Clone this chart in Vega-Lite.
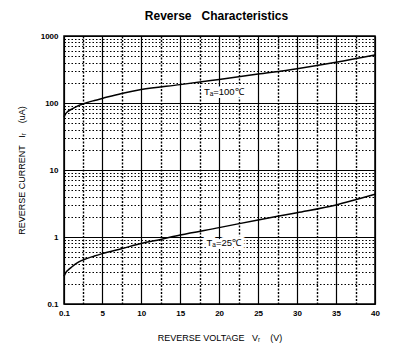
{
  "$schema": "https://vega.github.io/schema/vega-lite/v6.json",
  "width": 311,
  "height": 268,
  "autosize": {"type": "none"},
  "padding": {"left": 64, "top": 36, "right": 20, "bottom": 54},
  "background": "white",
  "config": {
    "font": "Liberation Sans",
    "view": {"stroke": "black", "strokeWidth": 1.5}
  },
  "title": {
    "text": "Reverse\u00a0\u00a0\u00a0Characteristics",
    "font": "Liberation Sans",
    "fontSize": 12,
    "fontWeight": "bold",
    "color": "black",
    "offset": 9,
    "dx": -3
  },
  "datasets": {
    "curves": [
      {"t": "100", "v": 0.1, "i": 62},
      {"t": "100", "v": 0.3, "i": 69},
      {"t": "100", "v": 0.6, "i": 75},
      {"t": "100", "v": 1, "i": 80},
      {"t": "100", "v": 1.5, "i": 86},
      {"t": "100", "v": 2, "i": 92},
      {"t": "100", "v": 3, "i": 101},
      {"t": "100", "v": 4, "i": 109},
      {"t": "100", "v": 5, "i": 117},
      {"t": "100", "v": 7.5, "i": 139},
      {"t": "100", "v": 10, "i": 159},
      {"t": "100", "v": 15, "i": 188},
      {"t": "100", "v": 20, "i": 225},
      {"t": "100", "v": 25, "i": 270},
      {"t": "100", "v": 30, "i": 325},
      {"t": "100", "v": 35, "i": 405},
      {"t": "100", "v": 40, "i": 520},
      {"t": "25", "v": 0.1, "i": 0.26},
      {"t": "25", "v": 0.3, "i": 0.29},
      {"t": "25", "v": 0.6, "i": 0.32},
      {"t": "25", "v": 1, "i": 0.35},
      {"t": "25", "v": 1.5, "i": 0.39},
      {"t": "25", "v": 2, "i": 0.425},
      {"t": "25", "v": 3, "i": 0.475},
      {"t": "25", "v": 4, "i": 0.52},
      {"t": "25", "v": 5, "i": 0.565},
      {"t": "25", "v": 7.5, "i": 0.67},
      {"t": "25", "v": 10, "i": 0.8},
      {"t": "25", "v": 12.5, "i": 0.92},
      {"t": "25", "v": 15, "i": 1.07},
      {"t": "25", "v": 20, "i": 1.38},
      {"t": "25", "v": 25, "i": 1.8},
      {"t": "25", "v": 30, "i": 2.3},
      {"t": "25", "v": 35, "i": 3.0},
      {"t": "25", "v": 37.5, "i": 3.6},
      {"t": "25", "v": 40, "i": 4.35}
    ],
    "labels": [
      {"v": 20.6, "i": 147, "label": "T\u2090=100\u2103"},
      {"v": 20.6, "i": 0.82, "label": "T\u2090=25\u2103"}
    ]
  },
  "encoding": {
    "x": {
      "field": "v",
      "type": "quantitative",
      "scale": {"domain": [0.1, 40], "nice": false, "zero": false},
      "axis": {
        "values": [0.1, 2.5, 5, 7.5, 10, 12.5, 15, 17.5, 20, 22.5, 25, 27.5, 30, 32.5, 35, 37.5, 40],
        "labelExpr": "(datum.value % 5 == 0 || datum.value == 0.1) ? datum.value + '' : ''",
        "title": "REVERSE VOLTAGE\u00a0\u00a0\u00a0V\u1d63\u00a0\u00a0\u00a0\u00a0(V)",
        "grid": true,
        "gridColor": "black",
        "gridOpacity": 1,
        "gridWidth": {"condition": {"test": "datum.value != 0.1 && datum.value % 5 > 0.01", "value": 1.4}, "value": 1.2},
        "gridDash": {"condition": {"test": "datum.value != 0.1 && datum.value % 5 > 0.01", "value": [2, 1.5]}, "value": []},
        "ticks": false,
        "domain": false,
        "labelFlush": false,
        "labelOverlap": false,
        "labelPadding": 5,
        "labelFontSize": 8,
        "labelFontWeight": "bold",
        "labelColor": "black",
        "titleFontSize": 9,
        "titleFontWeight": "normal",
        "titleColor": "black",
        "titlePadding": 16
      }
    },
    "y": {
      "field": "i",
      "type": "quantitative",
      "scale": {"type": "log", "domain": [0.1, 1000], "nice": false},
      "axis": {
        "values": [0.1, 0.2, 0.3, 0.4, 0.5, 0.6, 0.7, 0.8, 0.9, 1, 2, 3, 4, 5, 6, 7, 8, 9, 10, 20, 30, 40, 50, 60, 70, 80, 90, 100, 200, 300, 400, 500, 600, 700, 800, 900, 1000],
        "labelExpr": "indexof([0.1, 1, 10, 100, 1000], datum.value) >= 0 ? datum.value + '' : ''",
        "title": "REVERSE CURRENT\u00a0\u00a0\u00a0I\u1d63\u00a0\u00a0\u00a0\u00a0(uA)",
        "grid": true,
        "gridColor": "black",
        "gridOpacity": 1,
        "gridWidth": 1,
        "gridDash": {"condition": {"test": "indexof([0.1, 1, 10, 100, 1000], datum.value) < 0", "value": [1.5, 2]}, "value": []},
        "ticks": false,
        "domain": false,
        "labelFlush": false,
        "labelOverlap": false,
        "labelPadding": 6,
        "labelFontSize": 8,
        "labelFontWeight": "bold",
        "labelColor": "black",
        "titleFontSize": 9,
        "titleFontWeight": "normal",
        "titleColor": "black",
        "titlePadding": 14
      }
    }
  },
  "layer": [
    {
      "data": {"name": "curves"},
      "mark": {"type": "line", "color": "black", "strokeWidth": 1.5, "interpolate": "monotone"},
      "encoding": {"detail": {"field": "t"}}
    },
    {
      "data": {"name": "labels"},
      "mark": {"type": "text", "font": "Liberation Sans", "fontSize": 9.5, "stroke": "white", "strokeWidth": 6, "fill": "white"},
      "encoding": {"text": {"field": "label"}}
    },
    {
      "data": {"name": "labels"},
      "mark": {"type": "text", "font": "Liberation Sans", "fontSize": 9.5, "color": "black"},
      "encoding": {"text": {"field": "label"}}
    }
  ]
}
